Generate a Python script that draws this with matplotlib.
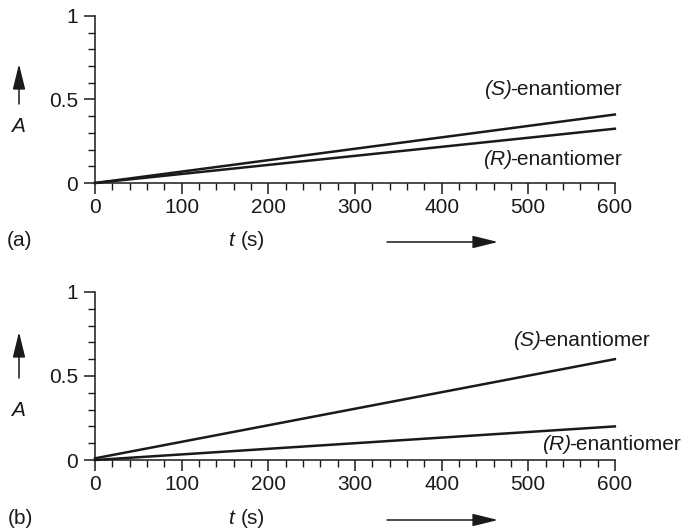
import matplotlib.pyplot as plt
from matplotlib.patches import FancyArrowPatch
from matplotlib.ticker import MultipleLocator, FixedLocator, FixedFormatter
from matplotlib.transforms import offset_copy

plt.rcParams['font.family'] = ['Liberation Sans', 'DejaVu Sans']

# time axis (s)
t = [0, 600]

# panel (a)
a_S = [0.0, 0.41]
a_R = [0.0, 0.325]

# panel (b)
b_S = [0.01, 0.60]
b_R = [0.0, 0.20]

y_ticks = [0, 0.5, 1]
y_labels = ['0', '0.5', '1']

fig = plt.figure(figsize=(6.84, 5.32), dpi=100)
ax_a = fig.add_axes([0.1389, 0.656, 0.760, 0.314])
ax_b = fig.add_axes([0.1389, 0.1353, 0.760, 0.316])

FS = 15
INK = '#1a1a1a'

def style(ax):
    for s in ['top', 'right']:
        ax.spines[s].set_visible(False)
    for s in ['left', 'bottom']:
        ax.spines[s].set_linewidth(1.1)
        ax.spines[s].set_color(INK)
    ax.set_xlim(0, 600)
    ax.set_ylim(0, 1)
    ax.xaxis.set_major_locator(MultipleLocator(100))
    ax.xaxis.set_minor_locator(MultipleLocator(20))
    ax.yaxis.set_major_locator(FixedLocator(y_ticks))
    ax.yaxis.set_major_formatter(FixedFormatter(y_labels))
    ax.yaxis.set_minor_locator(MultipleLocator(0.1))
    ax.tick_params(which='major', direction='out', length=8, width=1.1,
                   labelsize=FS, colors=INK, pad=3)
    ax.tick_params(which='minor', direction='out', length=5, width=1.0,
                   colors=INK)
    ax.tick_params(axis='y', which='major', pad=4)

for ax in (ax_a, ax_b):
    style(ax)

ax_a.plot(t, a_S, color=INK, lw=1.8, clip_on=False)
ax_a.plot(t, a_R, color=INK, lw=1.8, clip_on=False)
ax_b.plot(t, b_S, color=INK, lw=1.8, clip_on=False)
ax_b.plot(t, b_R, color=INK, lw=1.8, clip_on=False)

fig.canvas.draw()
renderer = fig.canvas.get_renderer()

def label(ax, x, y, tag):
    # regular part right-aligned, italic "(S)" placed just left of it
    txt = ax.text(x, y, '-enantiomer', ha='right', va='center', fontsize=FS,
                  color=INK, clip_on=False)
    w = txt.get_window_extent(renderer).width
    tr = offset_copy(ax.transData, fig=fig, x=-w * 72 / fig.dpi + 1.5, y=0, units='points')
    ax.text(x, y, tag, ha='right', va='center', fontsize=FS, color=INK,
            style='italic', transform=tr, clip_on=False)

label(ax_a, 608, 0.56, '(S)')
label(ax_a, 608, 0.14, '(R)')
label(ax_b, 641, 0.71, '(S)')
label(ax_b, 676, 0.09, '(R)')

W, H = 684, 532

def fx(px):
    return px / W

def fy(py):
    return 1 - py / H

arrow_kw = dict(arrowstyle='-|>,head_length=1.3,head_width=0.32', color=INK, lw=1.1,
                mutation_scale=12, shrinkA=0, shrinkB=0)

for (a_y, arr_top, arr_bot, t_y, lab, lab_y) in [
        (127, 64, 104, 241, '(a)', 240),
        (410, 332, 378, 519, '(b)', 518)]:
    fig.text(fx(18), fy(a_y), 'A', ha='center', va='center', fontsize=FS,
             color=INK, style='italic')
    fig.patches.append(FancyArrowPatch(
        (fx(19), fy(arr_bot)), (fx(19), fy(arr_top)), transform=fig.transFigure, **arrow_kw))
    fig.text(fx(231), fy(t_y), 't', ha='center', va='center', fontsize=FS,
             color=INK, style='italic')
    fig.text(fx(241), fy(t_y), '(s)', ha='left', va='center', fontsize=FS, color=INK)
    fig.patches.append(FancyArrowPatch(
        (fx(387), fy(t_y + 1)), (fx(498), fy(t_y + 1)), transform=fig.transFigure, **arrow_kw))
    fig.text(fx(20), fy(lab_y), lab, ha='center', va='center', fontsize=FS, color=INK)

fig.savefig('out.png', dpi=100)
